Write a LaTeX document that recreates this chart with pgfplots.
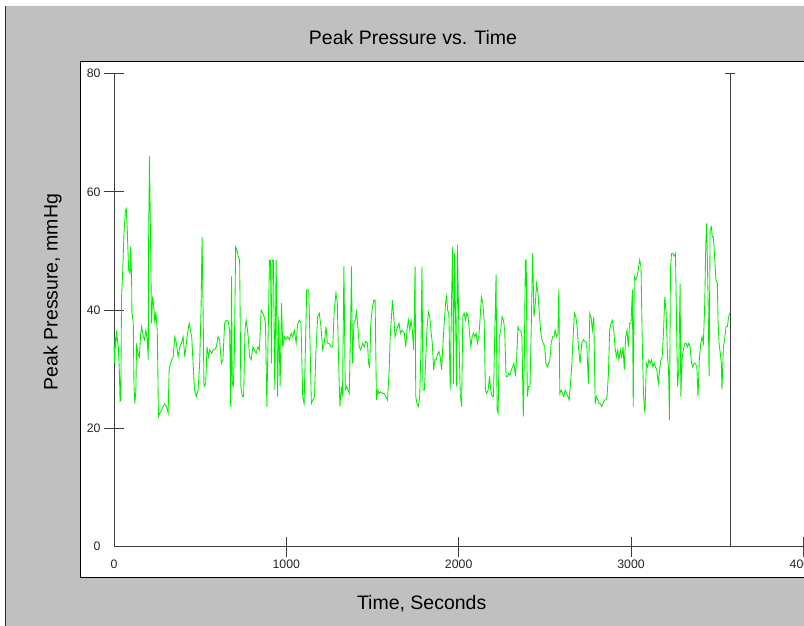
\documentclass[border=0pt]{standalone}
\usepackage{fontspec}
\setmainfont{Liberation Sans}
\usepackage{pgfplots}
\usepackage{pgfplotstable}
\pgfplotsset{compat=1.18}

\definecolor{panelgray}{RGB}{192,192,192}
\definecolor{axisgray}{RGB}{60,60,60}
\definecolor{trace}{RGB}{0,238,0}

% Peak pressure (mmHg) against elapsed time (s)
\pgfplotstableread{
t p
0 34.0
3 31.0
6 35.5
10 33.5
15 36.6
20 35.0
25 33.8
31 29.9
35 24.6
39 24.8
44 42.3
50 46.2
58 53.0
66 56.9
71 57.2
77 53.6
85 46.8
93 46.2
96 50.7
102 45.7
104 39.7
112 37.8
116 27.1
121 24.2
127 26.5
131 34.4
139 32.7
147 32.1
154 35.5
160 37.2
170 35.5
177 35.0
185 36.6
193 35.0
199 31.6
201 51.9
206 66.0
212 51.9
218 37.8
224 42.3
231 40.6
237 37.8
243 39.7
251 36.6
254 30.4
258 22.0
266 22.6
276 23.1
285 23.7
295 24.2
305 23.7
314 22.6
320 29.9
328 31.0
335 31.6
343 32.1
353 35.5
362 34.4
372 32.1
382 33.8
391 34.4
401 35.5
411 32.1
424 35.5
436 37.8
443 36.6
451 35.5
459 31.0
467 26.5
478 25.4
488 26.5
497 31.0
505 40.0
511 52.4
517 40.0
522 27.1
532 27.6
540 33.8
548 32.1
555 33.3
567 32.7
575 33.3
584 33.3
594 33.8
603 35.5
613 35.0
623 31.0
632 31.6
642 37.8
652 38.3
663 38.1
671 36.6
677 23.7
682 45.7
686 27.6
692 27.1
698 32.1
706 50.7
713 50.2
721 49.1
729 48.5
736 27.1
744 25.4
752 25.4
760 36.6
767 38.3
777 36.1
787 32.1
796 31.6
806 33.8
815 33.3
825 32.7
835 33.8
844 33.3
854 40.0
864 39.5
871 38.9
879 37.8
887 23.7
895 36.6
902 48.5
908 48.5
914 31.0
918 48.5
925 48.5
933 26.5
941 48.5
949 25.4
956 38.9
964 27.1
972 41.2
979 33.8
989 35.5
999 35.0
1008 35.5
1018 35.0
1028 36.1
1037 35.5
1047 36.6
1057 34.4
1066 37.8
1076 38.3
1085 37.8
1095 25.4
1103 24.2
1111 33.8
1118 43.4
1130 43.4
1138 33.8
1145 24.2
1153 24.8
1163 25.4
1172 33.3
1182 38.9
1191 39.5
1201 37.2
1211 33.3
1220 34.4
1230 37.2
1238 34.4
1249 34.4
1259 33.8
1269 33.8
1278 40.0
1288 42.9
1296 41.2
1303 31.6
1311 23.7
1319 27.1
1326 25.4
1334 47.4
1342 26.5
1350 27.1
1358 26.5
1365 25.9
1373 37.2
1378 47.4
1384 31.0
1392 37.8
1400 38.3
1407 39.7
1415 37.2
1423 33.8
1432 33.3
1442 34.4
1452 33.8
1461 34.7
1471 34.4
1477 31.0
1484 30.4
1490 37.8
1500 40.6
1508 41.7
1515 41.7
1523 24.8
1531 26.5
1538 25.9
1548 26.2
1558 25.9
1567 25.9
1577 25.4
1587 24.8
1596 29.3
1602 35.0
1610 38.9
1616 41.7
1623 38.9
1631 35.5
1639 36.6
1646 37.2
1654 37.8
1662 36.1
1670 36.6
1677 36.4
1685 36.1
1693 33.8
1700 36.6
1708 38.3
1716 36.6
1724 38.3
1731 36.6
1739 33.3
1747 47.4
1751 25.4
1758 24.2
1766 23.7
1774 25.4
1781 33.3
1787 47.4
1793 26.5
1801 26.5
1808 31.0
1816 36.6
1824 39.7
1832 38.9
1839 36.6
1847 34.4
1855 29.9
1862 31.6
1870 31.6
1878 32.7
1886 33.0
1893 32.1
1901 29.9
1909 34.4
1916 37.8
1924 41.2
1930 42.3
1936 40.0
1943 39.5
1951 26.5
1959 42.3
1965 50.7
1970 27.6
1976 49.6
1982 38.9
1988 27.1
1993 51.0
2001 36.6
2009 25.9
2017 23.7
2024 38.9
2032 39.5
2040 38.3
2047 39.5
2055 38.9
2063 36.1
2071 33.8
2078 35.5
2086 36.1
2094 35.5
2101 36.1
2109 34.4
2117 35.5
2125 38.9
2132 42.3
2140 41.2
2148 38.3
2155 26.5
2163 25.9
2171 26.5
2179 28.8
2186 26.5
2194 25.4
2202 25.4
2209 35.5
2217 46.0
2223 23.1
2229 22.6
2236 35.5
2244 36.6
2252 38.9
2260 38.3
2267 36.6
2275 28.8
2283 28.8
2290 29.3
2298 29.0
2306 29.9
2313 30.4
2321 31.0
2329 28.8
2337 32.1
2344 37.2
2352 36.6
2360 36.6
2367 35.5
2375 22.0
2381 32.1
2387 48.5
2392 48.5
2398 25.4
2406 27.1
2414 27.1
2421 36.6
2429 49.6
2437 38.9
2445 41.2
2452 44.5
2460 42.9
2468 39.5
2475 36.6
2483 35.0
2491 34.4
2499 33.8
2506 31.0
2514 30.4
2522 31.0
2529 31.6
2537 34.4
2545 35.5
2553 35.5
2560 36.6
2568 35.5
2576 36.1
2581 43.4
2587 25.9
2595 26.5
2603 25.9
2610 25.4
2618 26.5
2626 25.9
2634 25.4
2641 24.8
2649 27.6
2657 31.0
2664 35.5
2672 39.5
2680 38.9
2687 37.2
2695 33.8
2705 31.0
2714 34.4
2724 35.0
2734 34.7
2743 34.4
2753 27.6
2761 39.5
2768 38.9
2776 36.6
2784 38.9
2792 24.2
2799 25.4
2807 24.8
2815 24.2
2822 24.2
2830 23.7
2838 24.2
2846 24.8
2853 24.8
2861 25.4
2869 29.3
2876 36.6
2884 37.8
2892 38.3
2900 36.6
2907 33.8
2915 32.1
2923 33.3
2930 31.6
2938 33.3
2946 32.1
2954 33.8
2961 29.9
2969 35.5
2977 36.6
2984 33.8
2992 37.8
3000 37.8
3008 43.4
3013 23.7
3019 45.7
3027 45.1
3035 45.7
3042 46.8
3050 48.5
3058 47.4
3065 35.0
3073 25.4
3081 22.6
3089 31.0
3096 30.4
3104 31.6
3112 31.0
3119 31.6
3127 30.4
3135 31.0
3142 30.4
3150 29.9
3158 27.6
3166 29.9
3173 31.6
3181 32.1
3189 36.6
3196 42.3
3204 39.5
3212 32.1
3218 29.9
3223 21.4
3229 46.8
3235 49.6
3243 49.6
3250 49.1
3258 49.6
3264 38.3
3270 27.1
3277 29.9
3285 44.5
3289 25.4
3297 32.1
3304 33.3
3312 34.4
3320 34.4
3328 33.8
3335 34.4
3343 33.8
3351 31.0
3358 30.4
3366 31.0
3374 31.0
3382 30.4
3389 25.4
3397 32.1
3405 34.4
3412 35.5
3420 34.4
3428 41.2
3434 51.3
3439 54.7
3447 42.3
3453 28.8
3459 53.6
3466 54.1
3472 52.4
3478 52.4
3486 48.5
3493 45.1
3501 44.5
3505 38.3
3511 34.4
3518 32.7
3524 31.0
3528 26.5
3536 33.8
3543 35.0
3551 37.2
3559 37.2
3567 38.9
3572 39.5
}\peakdata

\begin{document}
\begin{tikzpicture}[x=1pt,y=1pt]
  \path[use as bounding box] (0,0) rectangle (804,626);
  \clip (0,0) rectangle (804,626);
  % window frame
  \fill[white] (0,0) rectangle (804,626);
  \fill[panelgray] (5.5,0) rectangle (804,620);
  \draw[black!85, line width=1.5pt] (5.5,0) -- (5.5,620);
  % plotting panel
  \filldraw[fill=white, draw=black, line width=1pt] (80.5,48.7) rectangle (830,564.3);

  \node[font=\fontsize{19.5}{23}\selectfont, anchor=base] at (413,581) {Peak Pressure vs. Time};
  \node[font=\fontsize{19.5}{23}\selectfont, anchor=base] at (421.7,16) {Time, Seconds};
  \node[font=\fontsize{19.5}{23}\selectfont, anchor=base, rotate=90] at (57.5,334) {Peak Pressure, mmHg};

  \begin{axis}[
    at={(114pt,79.3pt)}, anchor=south west,
    scale only axis, width=690.2pt, height=473pt,
    xmin=0, xmax=4005, ymin=0, ymax=80,
    axis x line*=bottom, axis y line*=left,
    axis line style={axisgray, line width=1pt},
    xtick={1000,2000,3000,4000}, ytick={20,40,60,80},
    extra x ticks={0}, extra y ticks={0},
    extra tick style={tick style={draw=none}},
    tick align=center, major tick length=20pt,
    tick style={axisgray, line width=0.9pt},
    ticklabel style={font=\fontsize{12.3}{14}\selectfont, text=black!85},
    /pgf/number format/assume math mode=true,
    /pgf/number format/1000 sep={},
    scaled x ticks=false,
    clip=false,
  ]
    \addplot[trace, line width=0.85pt] table[x=t, y=p] {\peakdata};
    % end-of-record marker
    \addplot[axisgray, line width=1pt] coordinates {(3575,0) (3575,80)};
    \addplot[axisgray, line width=1pt] coordinates {(3548,80) (3602,80)};
  \end{axis}
\end{tikzpicture}
\end{document}
